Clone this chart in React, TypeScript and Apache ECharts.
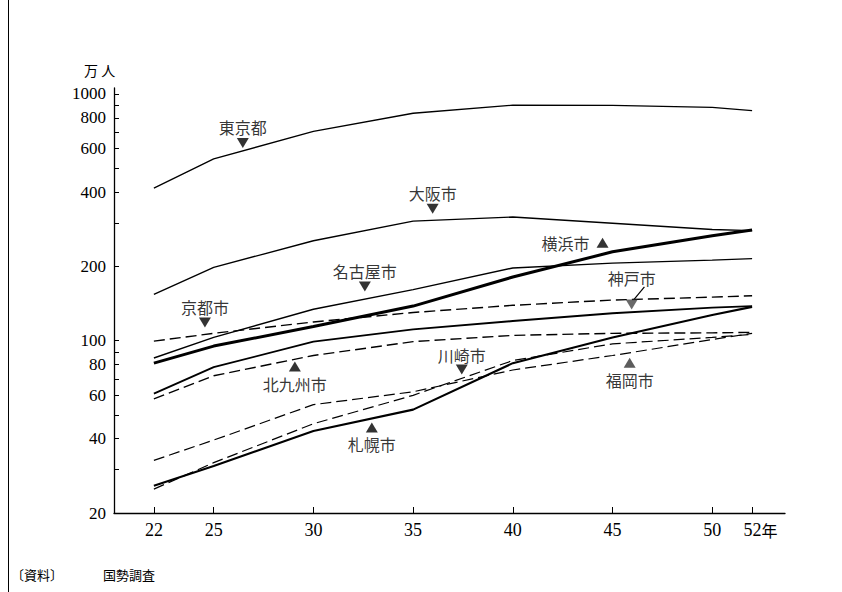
import React, { useEffect, useRef } from 'react';
import * as echarts from 'echarts';

// 年（昭和）
const years = [22, 25, 30, 35, 40, 45, 50, 52];

// 人口（万人）
const tokyo = [415, 545, 705, 835, 900, 898, 882, 856];
const osaka = [154, 198, 254, 305, 317, 299, 282, 279];
const yokohama = [81, 95, 114, 138, 181, 229, 266, 281];
const nagoya = [85, 103, 134, 161, 197, 206, 212, 215];
const kyoto = [99.5, 107, 119, 130, 139, 146, 150, 152];
const kobe = [61, 78, 99, 111, 120, 129, 136, 138];
const kitakyushu = [58, 72, 87, 99, 105, 107, 107.5, 108];
const kawasaki = [25, 32, 46, 60, 83, 97, 103, 106];
const fukuoka = [32.7, 39.5, 55, 62, 76, 87, 101, 107];
const sapporo = [25.8, 31, 43, 52.5, 81, 103, 127, 137];

// 目盛
const xTicks = [22, 25, 30, 35, 40, 45, 50, 52];
const yTicks = [20, 30, 40, 50, 60, 70, 80, 90, 100, 200, 300, 400, 500, 600, 700, 800, 900, 1000];
const yLabels = [20, 40, 60, 80, 100, 200, 400, 600, 800, 1000];

const FONT_SERIF = '"Liberation Serif", "DejaVu Serif", serif';
const FONT_JP = '"Noto Sans CJK JP", "Noto Sans CJK SC", sans-serif';

type LineDef = { name: string; values: number[]; width: number; dashed: boolean };
const lineDefs: LineDef[] = [
  { name: '東京都', values: tokyo, width: 1.3, dashed: false },
  { name: '大阪市', values: osaka, width: 1.4, dashed: false },
  { name: '横浜市', values: yokohama, width: 3, dashed: false },
  { name: '名古屋市', values: nagoya, width: 1.4, dashed: false },
  { name: '京都市', values: kyoto, width: 1.4, dashed: true },
  { name: '神戸市', values: kobe, width: 1.9, dashed: false },
  { name: '北九州市', values: kitakyushu, width: 1.4, dashed: true },
  { name: '川崎市', values: kawasaki, width: 1.2, dashed: true },
  { name: '福岡市', values: fukuoka, width: 1.2, dashed: true },
  { name: '札幌市', values: sapporo, width: 2.1, dashed: false },
];

// 注記（三角印とラベル）: 位置は年・万人の座標
type Note = { name: string; year: number; value: number; down: boolean; pos: string; dist: number; color: string };
const notes: Note[] = [
  { name: '東京都', year: 26.46, value: 633, down: true, pos: 'top', dist: 3, color: '#000' },
  { name: '大阪市', year: 35.98, value: 342, down: true, pos: 'top', dist: 3, color: '#000' },
  { name: '横浜市', year: 44.5, value: 249, down: false, pos: 'left', dist: 7, color: '#000' },
  { name: '名古屋市', year: 32.58, value: 165.5, down: true, pos: 'top', dist: 3, color: '#000' },
  { name: '京都市', year: 24.56, value: 118.3, down: true, pos: 'top', dist: 3, color: '#000' },
  { name: '神戸市', year: 45.96, value: 139.9, down: true, pos: 'top', dist: 14, color: '#444' },
  { name: '北九州市', year: 29.07, value: 78.5, down: false, pos: 'bottom', dist: 4, color: '#000' },
  { name: '川崎市', year: 37.44, value: 76.3, down: true, pos: 'top', dist: 2, color: '#000' },
  { name: '福岡市', year: 45.86, value: 81.4, down: false, pos: 'bottom', dist: 4, color: '#333' },
  { name: '札幌市', year: 32.93, value: 44.4, down: false, pos: 'bottom', dist: 3, color: '#000' },
];
const kobeArrow = [[46.6, 165], [46.08, 147]];

const lg = (v: number) => Math.log10(v);

export default function App() {
  const ref = useRef<HTMLDivElement>(null);
  useEffect(() => {
    if (!ref.current) return;
    const chart = echarts.init(ref.current, undefined, { renderer: 'svg' });

    const lineSeries = lineDefs.map((d) => ({
      name: d.name,
      type: 'line',
      data: years.map((y, i) => [y, lg(d.values[i])]),
      symbol: 'none',
      showSymbol: false,
      silent: true,
      lineStyle: { color: '#000', width: d.width, type: d.dashed ? [11, 5] : 'solid' },
      z: 2,
    }));

    const noteSeries = {
      type: 'scatter',
      silent: true,
      symbol: 'triangle',
      symbolSize: [12, 10],
      z: 5,
      data: notes.map((n) => ({
        name: n.name,
        value: [n.year, lg(n.value)],
        symbolRotate: n.down ? 180 : 0,
        itemStyle: { color: n.color },
        label: {
          show: true,
          position: n.pos,
          distance: n.dist,
          formatter: '{b}',
          color: '#000',
          fontFamily: FONT_JP,
          fontSize: 16,
        },
      })),
      markLine: {
        silent: true,
        symbol: ['none', 'none'],
        label: { show: false },
        lineStyle: { color: '#000', width: 1.2, type: 'solid' },
        data: [[{ coord: [kobeArrow[0][0], lg(kobeArrow[0][1])] }, { coord: [kobeArrow[1][0], lg(kobeArrow[1][1])] }]],
      },
    };

    chart.setOption({
      animation: false,
      backgroundColor: '#fff',
      grid: { left: 114, right: 57, top: 88, bottom: 79, containLabel: false },
      xAxis: {
        type: 'value',
        min: 20,
        max: 53.65,
        splitLine: { show: false },
        axisLine: { show: true, lineStyle: { color: '#000', width: 1.3 } },
        axisTick: { show: true, inside: true, length: 6, customValues: xTicks, lineStyle: { color: '#000', width: 1 } },
        axisLabel: {
          customValues: xTicks,
          color: '#000',
          fontFamily: FONT_SERIF,
          fontSize: 18,
          margin: 8,
          formatter: (v: number) => (v === 52 ? '{p|}52{n|年}' : String(v)),
          rich: {
            p: { width: 17 },
            n: { fontFamily: FONT_JP, fontSize: 16, color: '#000' },
          },
        },
      },
      yAxis: {
        type: 'value',
        min: lg(20),
        max: 3.024,
        splitLine: { show: false },
        axisLine: { show: true, lineStyle: { color: '#000', width: 1.3 } },
        axisTick: { show: true, inside: true, length: 5, customValues: yTicks.map(lg), lineStyle: { color: '#000', width: 1 } },
        axisLabel: {
          customValues: yLabels.map(lg),
          color: '#000',
          fontFamily: FONT_SERIF,
          fontSize: 17,
          margin: 8,
          padding: [4, 0, 0, 0],
          formatter: (v: number) => String(Math.round(Math.pow(10, v))),
        },
      },
      graphic: [
        { type: 'line', shape: { x1: 8.5, y1: 0, x2: 8.5, y2: 592 }, style: { stroke: '#000', lineWidth: 1 } },
        { type: 'text', left: 84, top: 63, style: { text: '万 人', font: `14px ${FONT_JP}`, fill: '#000' } },
        { type: 'text', left: 11, top: 568, style: { text: '〔資料〕', font: `13px ${FONT_JP}`, fill: '#000' } },
        { type: 'text', left: 103, top: 568, style: { text: '国勢調査', font: `13px ${FONT_JP}`, fill: '#000' } },
      ],
      series: [...lineSeries, noteSeries],
    });

    return () => chart.dispose();
  }, []);

  return <div ref={ref} style={{ position: 'absolute', left: 0, top: 0, width: 842, height: 592 }} />;
}
